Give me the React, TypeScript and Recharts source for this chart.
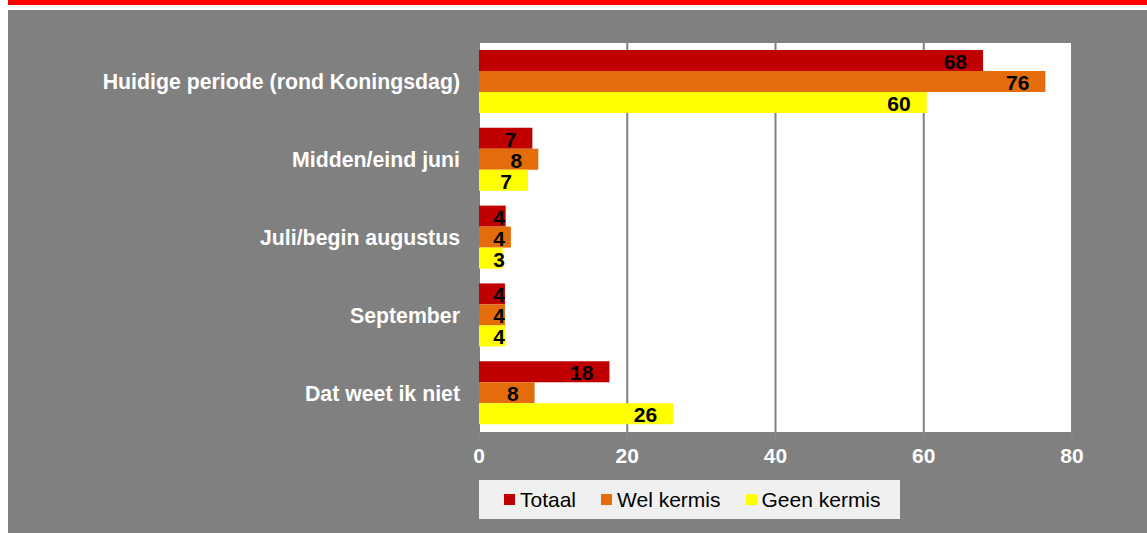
import React from 'react';
import { BarChart, Bar, XAxis, YAxis, CartesianGrid, LabelList } from 'recharts';

const FONT = '"Liberation Sans", Arial, sans-serif';
const GRAY_BG = '#808080';

const categories = [
  'Huidige periode (rond Koningsdag)',
  'Midden/eind juni',
  'Juli/begin augustus',
  'September',
  'Dat weet ik niet',
];
const totaal = [68, 7.2, 3.6, 3.5, 17.6];
const welKermis = [76.4, 8, 4.3, 3.5, 7.5];
const geenKermis = [60.4, 6.6, 3.2, 3.5, 26.2];
const xTicks = [0, 20, 40, 60, 80];

const series = [
  { key: 'totaal', name: 'Totaal', color: '#C00000' },
  { key: 'wel', name: 'Wel kermis', color: '#E46C0A' },
  { key: 'geen', name: 'Geen kermis', color: '#FFFF00' },
];

const data = categories.map((c, i) => ({
  cat: c,
  totaal: totaal[i],
  wel: welKermis[i],
  geen: geenKermis[i],
}));

// inside-end label, but pushed out a bit when the bar is too short
const BarLabel = (props: any) => {
  const { x, y, width, height, value } = props;
  const right = Math.max(x + width - 16, x + 26);
  return (
    <text
      x={right}
      y={y + height / 2 + 1}
      textAnchor="end"
      dominantBaseline="central"
      fontFamily={FONT}
      fontWeight="bold"
      fontSize={21}
      fill="#000"
    >
      {Math.round(value)}
    </text>
  );
};

export default function App() {
  return (
    <div style={{ position: 'absolute', left: 0, top: 0, width: 1147, height: 533, background: '#fff' }}>
      <div style={{ position: 'absolute', left: 8, top: 0, width: 1139, height: 5, background: '#FF0000' }} />
      <div style={{ position: 'absolute', left: 8, top: 10, width: 1139, height: 523, background: GRAY_BG }}>
        <BarChart
          width={1139}
          height={523}
          data={data}
          layout="vertical"
          margin={{ top: 33, right: 75, bottom: 71, left: 0 }}
          barSize={21}
          barGap={0}
        >
          <CartesianGrid
            fill="#fff"
            stroke={GRAY_BG}
            strokeWidth={2}
            horizontal={false}
            vertical={true}
          />
          <XAxis
            type="number"
            domain={[0, 80]}
            ticks={xTicks}
            height={30}
            axisLine={false}
            tickLine={{ stroke: '#8c8c8c' }}
            tickSize={6}
            tickMargin={10}
            tick={{ fill: '#fff', fontFamily: FONT, fontWeight: 'bold', fontSize: 21 }}
          />
          <YAxis
            type="category"
            dataKey="cat"
            width={471}
            axisLine={false}
            tickLine={false}
            tickMargin={13}
            interval={0}
            tick={{ fill: '#fff', fontFamily: FONT, fontWeight: 'bold', fontSize: 21.3 }}
          />
          {series.map((s) => (
            <Bar key={s.key} dataKey={s.key} name={s.name} fill={s.color} isAnimationActive={false}>
              <LabelList dataKey={s.key} content={BarLabel} />
            </Bar>
          ))}
        </BarChart>
        <div
          style={{
            position: 'absolute',
            left: 471,
            top: 470,
            width: 421,
            height: 39,
            background: '#F0F0F0',
            display: 'flex',
            alignItems: 'center',
            fontFamily: FONT,
            fontSize: 21,
            color: '#000',
          }}
        >
          {series.map((s) => (
            <div key={s.key} style={{ display: 'flex', alignItems: 'center', marginLeft: 25 }}>
              <span style={{ display: 'inline-block', width: 11, height: 11, background: s.color, marginRight: 5 }} />
              <span>{s.name}</span>
            </div>
          ))}
        </div>
      </div>
    </div>
  );
}
